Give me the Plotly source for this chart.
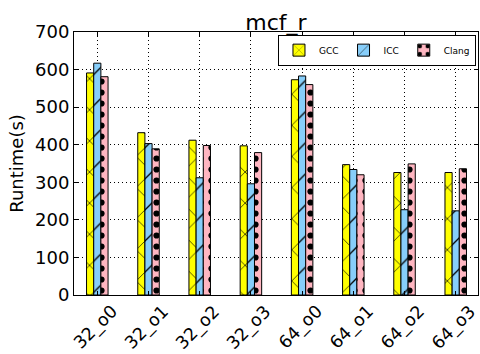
import plotly.graph_objects as go

categories = ["32_o0", "32_o1", "32_o2", "32_o3", "64_o0", "64_o1", "64_o2", "64_o3"]
gcc = [591, 432, 412, 397, 573, 347, 326, 326]
icc = [617, 403, 312, 296, 583, 334, 227, 224]
clang = [581, 389, 398, 379, 560, 320, 349, 336]
y_ticks = [0, 100, 200, 300, 400, 500, 600, 700]

FONT = "DejaVu Sans"

series = [
    ("GCC", gcc, "#ffff00", "x", 22, 0.06),
    ("ICC", icc, "#87cefa", "/", 22, 0.06),
    ("Clang", clang, "#ffb6c1", ".", 11, 0.25),
]

fig = go.Figure()
for name, vals, color, shape, size, solid in series:
    fig.add_trace(go.Bar(
        name=name,
        x=list(range(len(categories))),
        y=vals,
        marker=dict(
            color=color,
            line=dict(color="black", width=1),
            pattern=dict(shape=shape, fgcolor="black", bgcolor=color,
                         size=size, solidity=solid, fillmode="replace"),
        ),
    ))

# Category labels rotated 45 degrees and centred under each tick
for i, cat in enumerate(categories):
    fig.add_annotation(
        text=cat, x=i, xref="x", y=0, yref="paper",
        xanchor="center", yanchor="middle", yshift=-32, xshift=-2,
        textangle=-45, showarrow=False, font=dict(size=17.5),
    )

grid_style = dict(showgrid=True, gridcolor="black", griddash="1px,3px", gridwidth=1)

fig.update_layout(
    width=480, height=354,
    margin=dict(l=74, r=2, t=32, b=59),
    paper_bgcolor="white", plot_bgcolor="white",
    font=dict(family=FONT, color="black", size=18),
    barmode="group", bargap=0.58, bargroupgap=0,
    title=dict(text="mcf_r", x=0.5, xref="paper", xanchor="center",
               y=1, yref="paper", yanchor="bottom", pad=dict(b=2),
               font=dict(size=22)),
    showlegend=True,
    legend=dict(orientation="h", x=0.995, xanchor="right", y=0.99, yanchor="top",
                bgcolor="white", bordercolor="black", borderwidth=1,
                font=dict(size=9), itemwidth=30, tracegroupgap=0),
    xaxis=dict(
        tickmode="array", tickvals=list(range(len(categories))), showticklabels=False,
        range=[-0.455, 7.435], automargin=False,
        showline=True, linecolor="black", linewidth=1, mirror="allticks",
        ticks="inside", ticklen=4, tickcolor="black",
        zeroline=False, **grid_style,
    ),
    yaxis=dict(
        tickmode="array", tickvals=y_ticks, range=[0, 700], automargin=False,
        title=dict(text="Runtime(s)", font=dict(size=18), standoff=6),
        showline=True, linecolor="black", linewidth=1, mirror="allticks",
        ticks="inside", ticklen=4, tickcolor="black",
        zeroline=False, tickfont=dict(size=18), **grid_style,
    ),
)

fig.write_html("out.html")
